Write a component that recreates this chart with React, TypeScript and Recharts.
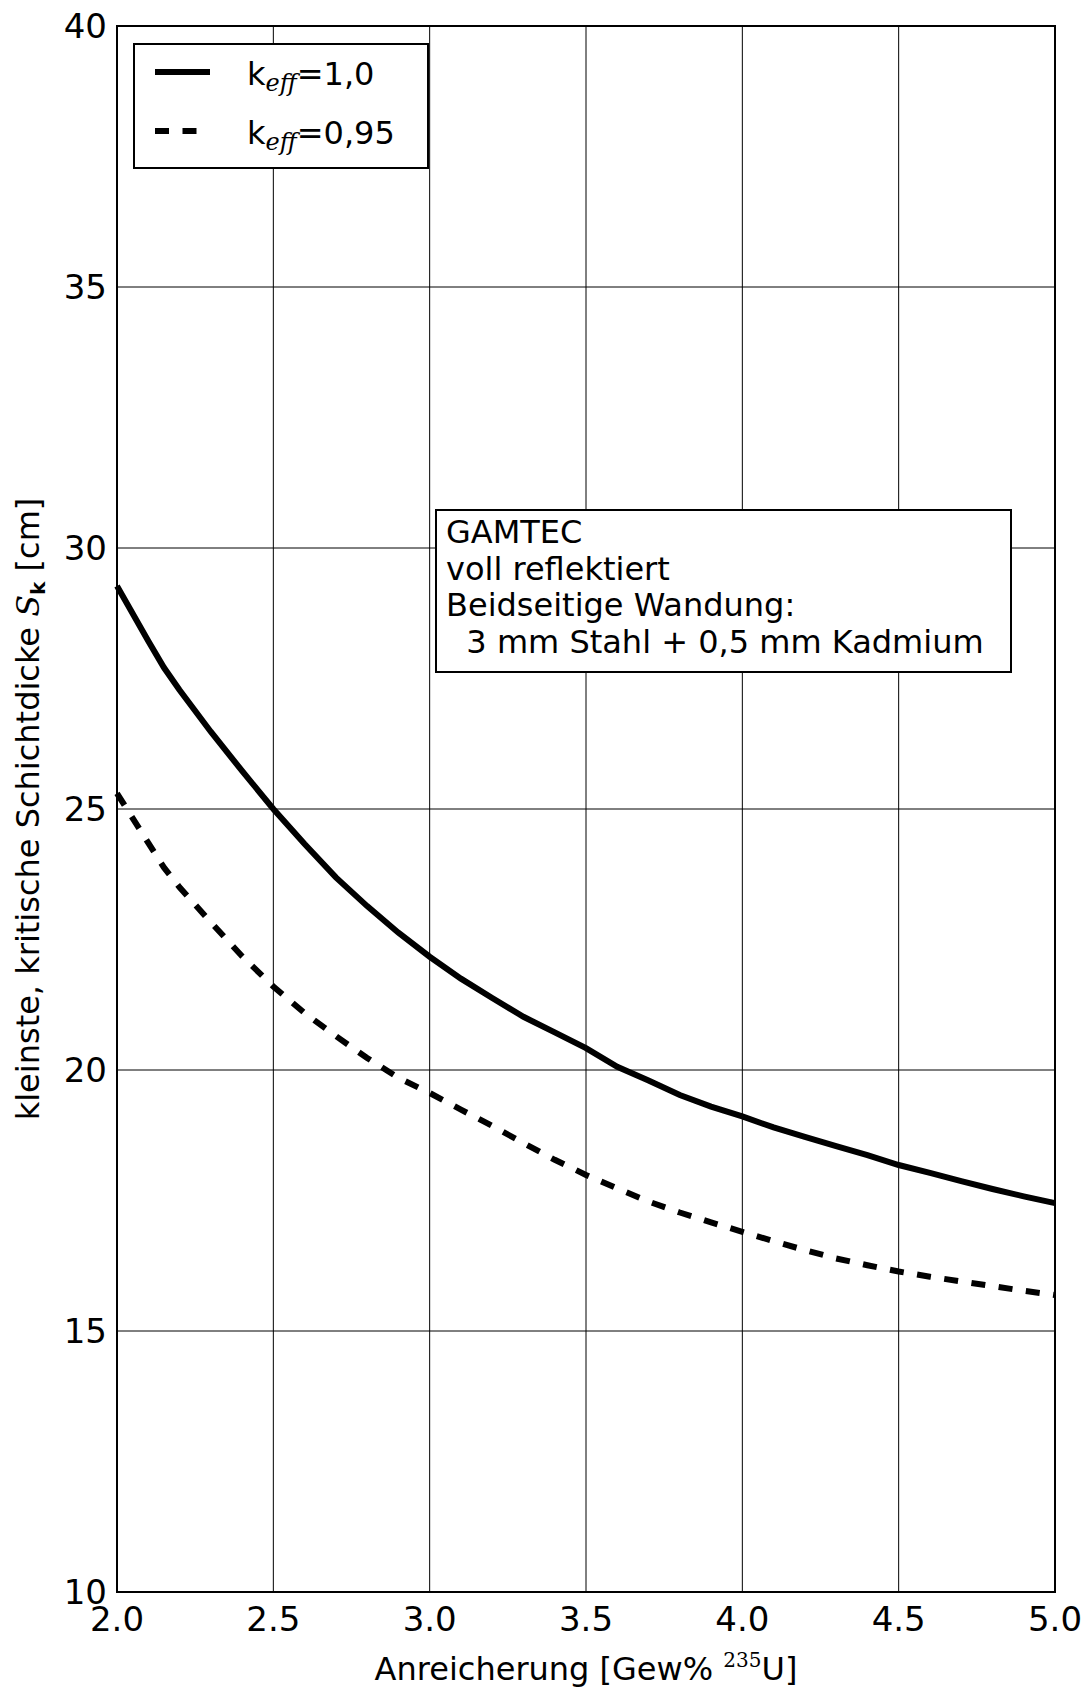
import { LineChart, Line, XAxis, YAxis, CartesianGrid, Legend, ReferenceArea } from 'recharts';

// Anreicherung [Gew% 235U]
const enrichment = [
  2.0, 2.1, 2.15, 2.2, 2.3, 2.4, 2.5, 2.6, 2.7, 2.8, 2.9, 3.0, 3.1, 3.2, 3.3, 3.4, 3.5,
  3.6, 3.7, 3.8, 3.9, 4.0, 4.1, 4.2, 4.3, 4.4, 4.5, 4.6, 4.7, 4.8, 4.9, 5.0,
];

// kleinste kritische Schichtdicke [cm], k_eff = 1,0
const keff100 = [
  29.27, 28.22, 27.71, 27.28, 26.48, 25.73, 25.0, 24.33, 23.69, 23.14, 22.63, 22.17, 21.75, 21.38, 21.02, 20.72, 20.42,
  20.06, 19.8, 19.52, 19.3, 19.11, 18.9, 18.72, 18.54, 18.37, 18.18, 18.03, 17.87, 17.72, 17.58, 17.45,
];

// k_eff = 0,95
const keff095 = [
  25.3, 24.35, 23.88, 23.5, 22.83, 22.18, 21.6, 21.09, 20.65, 20.23, 19.85, 19.56, 19.24, 18.93, 18.6, 18.28, 17.99,
  17.73, 17.48, 17.27, 17.08, 16.9, 16.72, 16.55, 16.39, 16.26, 16.14, 16.04, 15.95, 15.86, 15.77, 15.69,
];

const xTicks = [2.0, 2.5, 3.0, 3.5, 4.0, 4.5, 5.0];
const yTicks = [10, 15, 20, 25, 30, 35, 40];

const seriesKeys = ['k100', 'k095'];
const seriesValues = ['1,0', '0,95'];
const seriesDash = ['', '14 13.5'];

const noteLines = ['GAMTEC', 'voll reflektiert', 'Beidseitige Wandung:', '\u00a0\u00a03 mm Stahl + 0,5 mm Kadmium'];

const data = enrichment.map((x, i) => ({ x, k100: keff100[i], k095: keff095[i] }));

const FONT = '"DejaVu Sans", sans-serif';

function YTitle(props: any) {
  const vb = props.viewBox || { x: 0, y: 26, width: 117, height: 1566 };
  const cx = 39;
  const cy = vb.y + vb.height / 2;
  return (
    <text
      x={cx}
      y={cy}
      transform={`rotate(-90 ${cx} ${cy})`}
      textAnchor="middle"
      fontSize={32}
      fontFamily={FONT}
      fill="#000"
    >
      kleinste, kritische Schichtdicke{' '}
      <tspan fontFamily='"DejaVu Serif", serif' fontStyle="italic">S</tspan>
      <tspan fontSize={20} fontWeight="bold" dy={6}>k</tspan>
      <tspan dy={-6}> [cm]</tspan>
    </text>
  );
}

function XTitle(props: any) {
  const vb = props.viewBox || { x: 117, y: 1592, width: 938, height: 99 };
  const cx = vb.x + vb.width / 2;
  return (
    <text x={cx} y={1680} textAnchor="middle" fontSize={32} fontFamily={FONT} fill="#000">
      Anreicherung [Gew%{' '}
      <tspan fontFamily='"DejaVu Serif", serif' fontSize={20} dy={-13}>235</tspan>
      <tspan dy={13}>U]</tspan>
    </text>
  );
}

function LegendBox() {
  return (
    <svg width={296} height={126} style={{ display: 'block' }}>
      <rect x={1} y={1} width={294} height={124} fill="#fff" stroke="#000" strokeWidth={2} />
      {seriesKeys.map((k, i) => {
        const cy = 29 + i * 59;
        return (
          <g key={k}>
            <line x1={22} x2={77} y1={cy} y2={cy} stroke="#000" strokeWidth={6} strokeDasharray={seriesDash[i] || undefined} />
            <text x={114} y={cy + 13} fontSize={32} fontFamily={FONT} fill="#000">
              k
              <tspan fontFamily='"DejaVu Serif", serif' fontStyle="italic" fontSize={24} dy={6}>eff</tspan>
              <tspan dy={-6}>={seriesValues[i]}</tspan>
            </text>
          </g>
        );
      })}
    </svg>
  );
}

export default function App() {
  return (
    <div style={{ position: 'absolute', left: 0, top: 0, width: 1092, height: 1691, background: '#fff' }}>
      <LineChart width={1092} height={1691} data={data} margin={{ top: 26, right: 37, left: 0, bottom: 0 }}>
        <CartesianGrid stroke="#000" strokeWidth={1} strokeDasharray="" />
        <XAxis
          dataKey="x"
          type="number"
          domain={[2, 5]}
          ticks={xTicks}
          tickFormatter={(v: number) => v.toFixed(1)}
          tickLine={false}
          axisLine={false}
          tickSize={0}
          tickMargin={15}
          height={99}
          tick={{ fontSize: 34, fontFamily: FONT, fill: '#000' }}
          interval={0}
          label={<XTitle />}
        />
        <YAxis
          type="number"
          domain={[10, 40]}
          ticks={yTicks}
          tickLine={false}
          axisLine={false}
          tickSize={0}
          tickMargin={10}
          width={117}
          tick={{ fontSize: 34, fontFamily: FONT, fill: '#000' }}
          interval={0}
          label={<YTitle />}
        />
        <ReferenceArea x1={2} x2={5} y1={10} y2={40} fill="none" fillOpacity={0} stroke="#000" strokeWidth={2} />
        <Line
          dataKey="k100"
          type="linear"
          stroke="#000"
          strokeWidth={6}
          dot={false}
          activeDot={false}
          isAnimationActive={false}
        />
        <Line
          dataKey="k095"
          type="linear"
          stroke="#000"
          strokeWidth={6}
          strokeDasharray={seriesDash[1]}
          dot={false}
          activeDot={false}
          isAnimationActive={false}
        />
        <Legend
          layout="horizontal"
          verticalAlign="middle"
          align="center"
          content={() => <LegendBox />}
          wrapperStyle={{ position: 'absolute', left: 133, top: 43, width: 296, height: 126 }}
        />
      </LineChart>
      <div
        style={{
          position: 'absolute',
          left: 435,
          top: 509,
          width: 564,
          height: 157,
          border: '2px solid #000',
          background: '#fff',
          fontFamily: FONT,
          fontSize: 32,
          lineHeight: '36.7px',
          padding: '3px 0 0 9px',
          boxSizing: 'content-box',
          whiteSpace: 'pre',
          color: '#000',
        }}
      >
        {noteLines.map((l) => (
          <div key={l}>{l}</div>
        ))}
      </div>
    </div>
  );
}
